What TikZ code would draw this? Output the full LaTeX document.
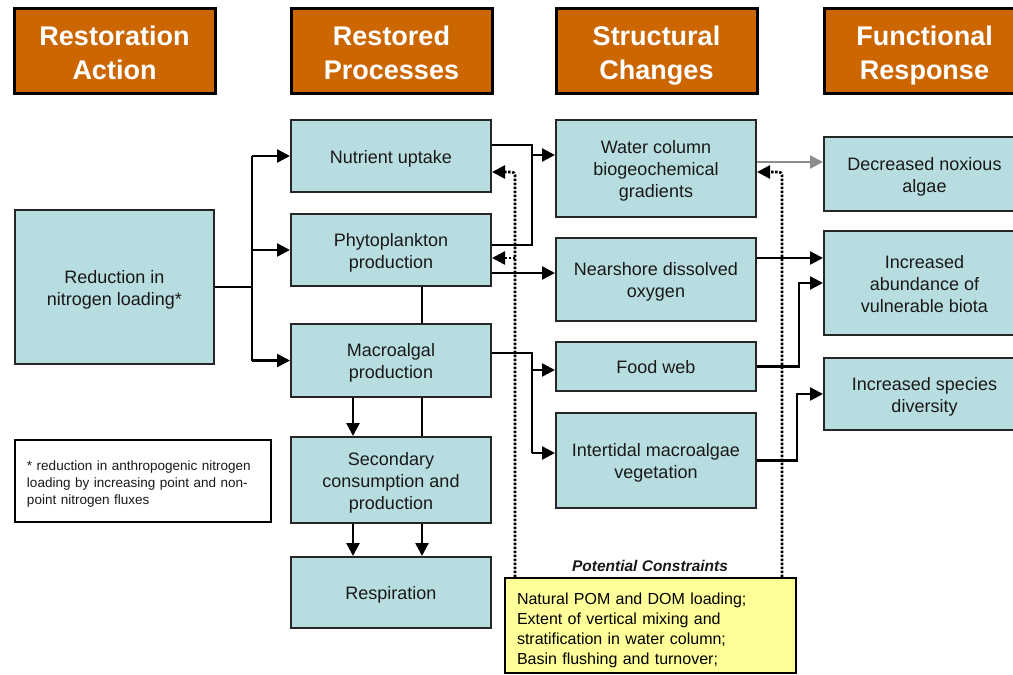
\documentclass[tikz,border=0pt]{standalone}
\usepackage{fontspec}
\setmainfont{Liberation Sans}
\usetikzlibrary{arrows.meta,calc}
\definecolor{hdrfill}{RGB}{204,102,0}
\definecolor{boxfill}{RGB}{184,221,224}
\definecolor{yelfill}{RGB}{255,255,153}
\definecolor{txtcol}{RGB}{25,25,25}
\newcommand{\hdrtext}[2]{\rule{0pt}{29.7pt}#1\\#2\vphantom{g}}
\newcommand{\myTop}{\rule{0pt}{18pt}}
\newcommand{\myBot}{\vphantom{g}}
\begin{document}
\begin{tikzpicture}[x=1pt,y=-1pt,
  hdrbox/.style={draw=black, line width=3pt, fill=hdrfill, text=white,
    font=\fontsize{27}{33.5}\selectfont\bfseries, align=center,
    minimum width=201pt, minimum height=85pt, inner sep=0pt},
  box/.style={draw=black!85, line width=2pt, fill=boxfill, text=txtcol,
    font=\fontsize{18}{22}\selectfont, align=center, inner sep=0pt},
  conn/.style={line width=2.4pt, black},
  tip/.style={-{Triangle[length=13pt,width=13pt]}},
  arr/.style={conn, tip},
  dotarr/.style={line width=2.6pt, black, dash pattern=on 2.4pt off 1.6pt,
    rounded corners=3pt, tip},
  grayarr/.style={line width=2.2pt, black!45, tip},
]
\useasboundingbox (0,0) rectangle (1013,675);
\fill[white] (0,0) rectangle (1013,675);
\clip (0,0) rectangle (1013,675);

% headers
\node[hdrbox] (h1) at (114.5,50.5) {\hdrtext{Restoration}{Action}};
\node[hdrbox] (h2) at (391.5,50.5) {\hdrtext{Restored}{Processes}};
\node[hdrbox] (h3) at (656.5,50.5) {\hdrtext{Structural}{Changes}};
\node[hdrbox] (h4) at (924.5,50.5) {\hdrtext{Functional}{Response}};

% column 1
\node[box, minimum width=199pt, minimum height=154pt] (red) at (114.5,287) {\myTop Reduction in\\nitrogen loading*\myBot};
\node[draw=black, line width=2.4pt, fill=white, text=txtcol, align=left,
  text width=232pt, inner xsep=12pt, minimum height=82pt,
  font=\fontsize{13.5}{17}\selectfont] (foot) at (143,481)
  {\rule{0pt}{15.7pt}* reduction in anthropogenic nitrogen\\loading by increasing point and non-\\point nitrogen fluxes};

% column 2
\node[box, minimum width=200pt, minimum height=72pt] (nut) at (391,156) {\myTop Nutrient uptake\myBot};
\node[box, minimum width=200pt, minimum height=72pt] (phy) at (391,250) {\myTop Phytoplankton\\production\myBot};
\node[box, minimum width=200pt, minimum height=73pt] (mac) at (391,360.5) {\myTop Macroalgal\\production\myBot};
\node[box, minimum width=200pt, minimum height=86pt] (sec) at (391,480) {\myTop Secondary\\consumption and\\production\myBot};
\node[box, minimum width=200pt, minimum height=71pt] (res) at (391,592.5) {\myTop Respiration\myBot};

% column 3
\node[box, minimum width=200pt, minimum height=97pt] (wat) at (656,168.5) {\myTop Water column\\biogeochemical\\gradients\myBot};
\node[box, minimum width=200pt, minimum height=83pt] (nea) at (656,279.5) {\myTop Nearshore dissolved\\oxygen\myBot};
\node[box, minimum width=200pt, minimum height=49pt] (foo) at (656,366.5) {\myTop Food web\myBot};
\node[box, minimum width=200pt, minimum height=95pt] (int) at (656,460.5) {\myTop Intertidal macroalgae\\vegetation\myBot};

% column 4
\node[box, minimum width=201pt, minimum height=74pt] (dec) at (924.5,174) {\myTop Decreased noxious\\algae\myBot};
\node[box, minimum width=201pt, minimum height=104pt] (abu) at (924.5,283) {\myTop Increased\\abundance of\\vulnerable biota\myBot};
\node[box, minimum width=201pt, minimum height=72pt] (spe) at (924.5,394) {\myTop Increased species\\diversity\myBot};

% constraints
\node[draw=black, line width=2pt, fill=yelfill, text=black, align=left,
  text width=267pt, inner xsep=12pt, minimum height=95pt,
  font=\fontsize{16}{20}\selectfont] (yel) at (650.5,625.5)
  {\rule{0pt}{21.5pt}Natural POM and DOM loading;\\Extent of vertical mixing and\\stratification in water column;\\Basin flushing and turnover;};
\node[font=\fontsize{15.5}{18}\selectfont\bfseries\itshape, text=txtcol] (pc) at (650,566) {Potential Constraints};

% helper x positions
\coordinate (j1) at (252,287);
\coordinate (xa) at (353,0);
\coordinate (xc) at (422,0);
\coordinate (x515) at (515,0);
\coordinate (x532) at (532,0);
\coordinate (x782) at (782,0);
\coordinate (x797) at (797,0);
\coordinate (x799) at (799,0);

% left tree
\draw[conn] (red.east) -- (j1);
\draw[conn] (nut.west -| j1) -- (mac.west -| j1);
\draw[arr] (j1 |- nut.west) -- (nut.west);
\draw[arr] (j1 |- phy.west) -- (phy.west);
\draw[arr] (j1 |- mac.west) -- (mac.west);

% column 2 internal
\draw[conn] (phy.south -| xc) -- (mac.north -| xc);
\draw[conn] (mac.south -| xc) -- (sec.north -| xc);
\draw[arr] (mac.south -| xa) -- (sec.north -| xa);
\draw[arr] (sec.south -| xa) -- (res.north -| xa);
\draw[arr] (sec.south -| xc) -- (res.north -| xc);

% nutrient / phyto loop and outputs
\path ([yshift=11pt]nut.east) coordinate (n1);
\path ([yshift=5pt]phy.east) coordinate (p1);
\draw[conn] (n1) -- (n1 -| x532) -- (p1 -| x532) -- (p1);
\path ([yshift=13.5pt]wat.west) coordinate (w1);
\draw[arr] (x532 |- w1) -- (w1);
\path ([yshift=-23pt]phy.east) coordinate (p3);
\draw[arr] (p3) -- (nea.west |- p3);

% macroalgal outputs
\path ([yshift=7.5pt]mac.east) coordinate (m1);
\path (m1 -| x532) coordinate (m2);
\path ([yshift=-3.5pt]foo.west) coordinate (f1);
\path ([yshift=7.5pt]int.west) coordinate (i1);
\draw[conn] (m1) -- (m2) -- (m2 |- i1);
\draw[arr] (m2 |- f1) -- (f1);
\draw[arr] (m2 |- i1) -- (i1);

% dotted constraint arrows
\path ([yshift=-16pt]nut.east) coordinate (n2);
\path ([yshift=-8pt]phy.east) coordinate (p2);
\draw[dotarr] (yel.north -| x515) -- (x515 |- n2) -- (n2);
\draw[dotarr] (x515 |- p2) -- (p2);
\path ([yshift=-3.5pt]wat.east) coordinate (w3);
\draw[dotarr] (yel.north -| x782) -- (x782 |- w3) -- (w3);

% column 3 -> 4
\path ([yshift=6.5pt]wat.east) coordinate (w2);
\draw[grayarr] (w2) -- (dec.west |- w2);
\path ([yshift=21.5pt]nea.east) coordinate (e1);
\draw[arr] (e1) -- (abu.west |- e1);
\draw[arr] (foo.east) -- (foo.east -| x799) -- (x799 |- abu.west) -- (abu.west);
\draw[arr] (int.east) -- (int.east -| x797) -- (x797 |- spe.west) -- (spe.west);
\end{tikzpicture}
\end{document}
